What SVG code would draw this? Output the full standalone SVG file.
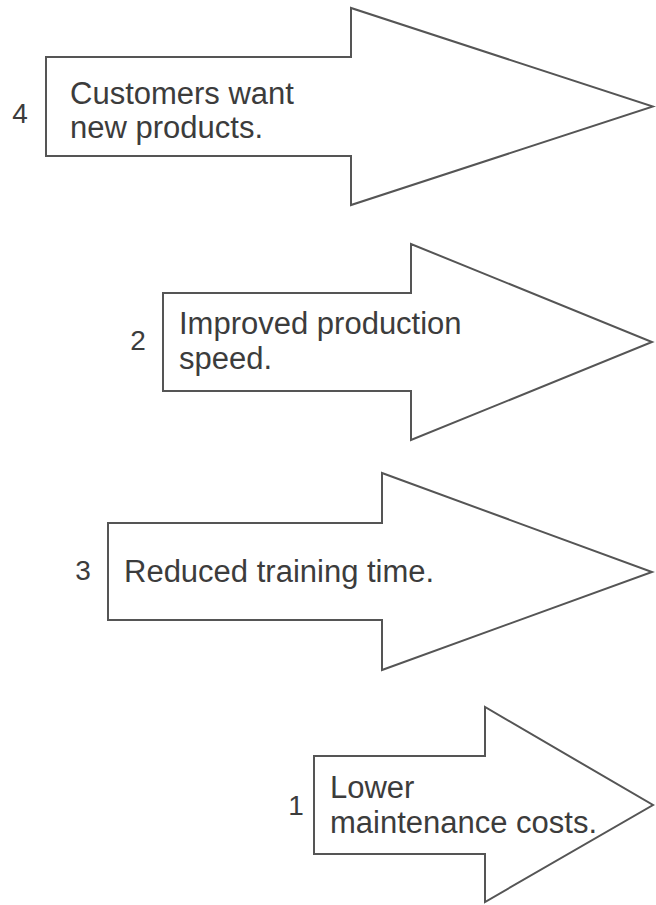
<svg xmlns="http://www.w3.org/2000/svg" width="656" height="905" viewBox="0 0 656 905">
  <style>
    .arrow { fill: #ffffff; stroke: #555555; stroke-width: 2; stroke-linejoin: miter; }
    .label { font-family: "Liberation Sans", Arial, Helvetica, sans-serif; font-size: 31px; fill: #3c3c3c; }
    .num { font-family: "Liberation Sans", Arial, Helvetica, sans-serif; font-size: 28px; fill: #3c3c3c; text-anchor: middle; }
  </style>
  <rect width="656" height="905" fill="#ffffff"/>

  <!-- Block arrow 4 -->
  <g id="arrow-4">
    <polygon class="arrow" points="46,57 351,57 351,8 653,106.5 351,205 351,156 46,156"/>
    <text class="num" x="20" y="123">4</text>
    <text class="label" x="70" y="104">Customers want</text>
    <text class="label" x="70" y="138">new products.</text>
  </g>

  <!-- Block arrow 2 -->
  <g id="arrow-2">
    <polygon class="arrow" points="163,293 411,293 411,244 652,342 411,440 411,391 163,391"/>
    <text class="num" x="138" y="350">2</text>
    <text class="label" x="179" y="334">Improved production</text>
    <text class="label" x="179" y="369">speed.</text>
  </g>

  <!-- Block arrow 3 -->
  <g id="arrow-3">
    <polygon class="arrow" points="108,523 382,523 382,473 652,572 382,670 382,620 108,620"/>
    <text class="num" x="83" y="580">3</text>
    <text class="label" x="124" y="582">Reduced training time.</text>
  </g>

  <!-- Block arrow 1 -->
  <g id="arrow-1">
    <polygon class="arrow" points="314,756 485,756 485,707 653,805 485,902 485,854 314,854"/>
    <text class="num" x="296" y="815">1</text>
    <text class="label" x="330" y="798">Lower</text>
    <text class="label" x="330" y="833">maintenance costs.</text>
  </g>

  <!-- no connectors between the arrows -->
  <g id="connectors"/>
</svg>
